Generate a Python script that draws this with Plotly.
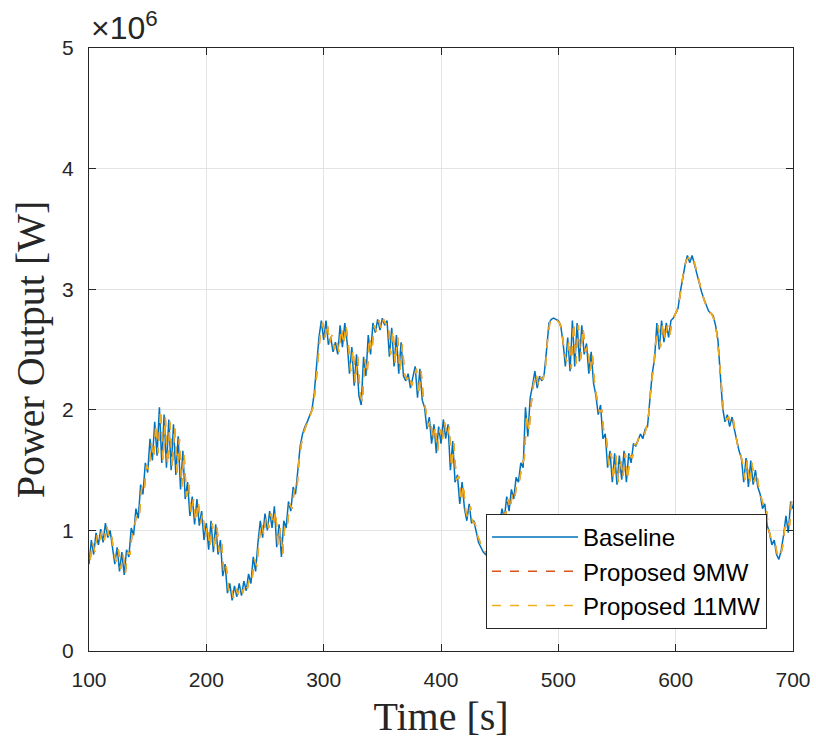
import numpy as np
import plotly.graph_objects as go

# Time axes (s)
baseline_time = np.arange(100, 701, 2)
proposed_time = np.arange(101, 700, 2)

# Power output, in MW (x 1e6 W)
baseline_mw = [
    0.72, 0.92, 0.80, 0.98, 0.88, 1.01, 0.90, 1.06, 0.94, 1.00,
    0.86, 0.72, 0.86, 0.66, 0.82, 0.63, 0.84, 0.78, 1.02, 0.96,
    1.18, 1.10, 1.38, 1.30, 1.56, 1.48, 1.76, 1.58, 1.90, 1.62,
    2.02, 1.56, 1.96, 1.52, 1.92, 1.50, 1.88, 1.46, 1.78, 1.34,
    1.66, 1.26, 1.40, 1.12, 1.28, 1.05, 1.26, 1.04, 1.16, 0.92,
    1.06, 0.84, 1.08, 0.82, 1.05, 0.80, 0.92, 0.62, 0.72, 0.48,
    0.56, 0.42, 0.54, 0.45, 0.56, 0.46, 0.58, 0.50, 0.64, 0.56,
    0.78, 0.66, 0.90, 1.08, 0.94, 1.14, 1.00, 1.16, 1.02, 1.20,
    0.86, 1.05, 0.78, 1.08, 1.02, 1.24, 1.16, 1.36, 1.30, 1.50,
    1.70, 1.80, 1.86, 1.90, 1.96, 2.00, 2.14, 2.40, 2.60, 2.74,
    2.58, 2.74, 2.54, 2.60, 2.48, 2.56, 2.46, 2.70, 2.52, 2.72,
    2.56, 2.30, 2.52, 2.20, 2.46, 2.12, 2.04, 2.44, 2.28, 2.62,
    2.46, 2.72, 2.64, 2.75, 2.66, 2.76, 2.70, 2.74, 2.44, 2.68,
    2.36, 2.62, 2.30, 2.56, 2.28, 2.24, 2.30, 2.18, 2.26, 2.36,
    2.10, 2.34, 2.08, 2.02, 1.84, 1.94, 1.72, 1.88, 1.64, 1.86,
    1.72, 1.92, 1.76, 1.88, 1.50, 1.74, 1.40, 1.46, 1.22, 1.40,
    1.18, 1.08, 1.22, 1.06, 1.08, 0.98, 0.90, 0.86, 0.82, 0.80,
    0.84, 0.80, 0.88, 0.86, 0.98, 1.06, 1.18, 1.10, 1.28, 1.16,
    1.34, 1.26, 1.44, 1.40, 1.56, 1.52, 2.02, 1.78, 2.10, 2.20,
    2.32, 2.18, 2.28, 2.24, 2.30, 2.50, 2.72, 2.75, 2.76, 2.75,
    2.74, 2.70, 2.56, 2.36, 2.60, 2.32, 2.74, 2.36, 2.72, 2.40,
    2.70, 2.46, 2.55, 2.30, 2.48, 2.22, 2.12, 1.96, 2.04, 1.76,
    1.80, 1.52, 1.66, 1.40, 1.64, 1.38, 1.62, 1.42, 1.66, 1.40,
    1.64, 1.56, 1.72, 1.70, 1.76, 1.80, 1.76, 1.84, 1.86, 2.10,
    2.30, 2.42, 2.72, 2.50, 2.74, 2.56, 2.72, 2.60, 2.74, 2.76,
    2.80, 2.84, 2.98, 3.10, 3.20, 3.28, 3.22, 3.28, 3.20, 3.14,
    3.04, 2.98, 2.92, 2.86, 2.82, 2.80, 2.78, 2.70, 2.58, 2.30,
    2.02, 1.90, 1.96, 1.86, 1.94, 1.84, 1.74, 1.66, 1.60, 1.40,
    1.60, 1.36, 1.58, 1.38, 1.50, 1.36, 1.30, 1.18, 1.22, 1.04,
    0.98, 0.88, 0.92, 0.80, 0.76, 0.84, 0.96, 1.12, 0.98, 1.24,
    1.18,
]

# Proposed controllers (9 MW and 11 MW curves coincide in the chart), in MW
proposed_mw = [
    0.76, 0.90, 0.82, 0.96, 0.90, 1.00, 0.92, 1.04, 0.95, 0.98,
    0.82, 0.74, 0.84, 0.68, 0.80, 0.65, 0.82, 0.80, 1.00, 1.04,
    1.16, 1.14, 1.36, 1.32, 1.54, 1.50, 1.72, 1.60, 1.88, 1.64,
    2.00, 1.58, 1.94, 1.54, 1.90, 1.52, 1.86, 1.48, 1.76, 1.36,
    1.64, 1.28, 1.38, 1.14, 1.26, 1.07, 1.24, 1.06, 1.14, 0.94,
    1.04, 0.86, 1.06, 0.84, 1.03, 0.82, 0.90, 0.64, 0.70, 0.50,
    0.54, 0.44, 0.52, 0.47, 0.54, 0.48, 0.56, 0.52, 0.62, 0.60,
    0.76, 0.70, 0.92, 1.06, 0.96, 1.12, 1.02, 1.14, 1.04, 1.16,
    0.88, 1.02, 0.80, 1.06, 1.04, 1.22, 1.18, 1.34, 1.32, 1.58,
    1.72, 1.81, 1.87, 1.91, 1.97, 2.02, 2.18, 2.44, 2.62, 2.72,
    2.60, 2.72, 2.55, 2.62, 2.50, 2.58, 2.48, 2.68, 2.54, 2.70,
    2.54, 2.32, 2.50, 2.22, 2.44, 2.14, 2.06, 2.42, 2.30, 2.60,
    2.48, 2.70, 2.65, 2.74, 2.67, 2.75, 2.71, 2.72, 2.46, 2.66,
    2.38, 2.60, 2.32, 2.54, 2.29, 2.25, 2.29, 2.20, 2.27, 2.34,
    2.12, 2.32, 2.09, 2.00, 1.86, 1.92, 1.74, 1.86, 1.66, 1.84,
    1.74, 1.90, 1.77, 1.86, 1.52, 1.72, 1.42, 1.45, 1.24, 1.38,
    1.16, 1.10, 1.20, 1.07, 1.06, 0.96, 0.91, 0.85, 0.83, 0.81,
    0.83, 0.82, 0.87, 0.88, 1.00, 1.08, 1.16, 1.12, 1.26, 1.18,
    1.32, 1.28, 1.42, 1.42, 1.54, 1.60, 1.96, 1.82, 2.06, 2.22,
    2.30, 2.20, 2.27, 2.25, 2.36, 2.60, 2.74, 2.76, 2.76, 2.74,
    2.72, 2.66, 2.48, 2.40, 2.58, 2.34, 2.72, 2.38, 2.70, 2.42,
    2.68, 2.48, 2.53, 2.32, 2.46, 2.20, 2.10, 1.98, 2.00, 1.78,
    1.76, 1.54, 1.64, 1.42, 1.62, 1.40, 1.60, 1.44, 1.64, 1.42,
    1.62, 1.60, 1.71, 1.72, 1.78, 1.79, 1.78, 1.85, 1.96, 2.20,
    2.34, 2.56, 2.70, 2.52, 2.72, 2.58, 2.70, 2.62, 2.74, 2.78,
    2.82, 2.90, 3.04, 3.16, 3.24, 3.26, 3.24, 3.26, 3.18, 3.10,
    3.02, 2.95, 2.89, 2.84, 2.81, 2.79, 2.74, 2.64, 2.44, 2.16,
    1.96, 1.92, 1.94, 1.88, 1.92, 1.80, 1.70, 1.64, 1.56, 1.42,
    1.58, 1.38, 1.56, 1.40, 1.48, 1.34, 1.28, 1.20, 1.20, 1.02,
    0.94, 0.90, 0.88, 0.78, 0.78, 0.86, 1.02, 1.08, 1.04, 1.26,
]

series_names = ["Baseline", "Proposed 9MW", "Proposed 11MW"]
x_ticks = [100, 200, 300, 400, 500, 600, 700]
y_ticks_mw = [0, 1, 2, 3, 4, 5]

baseline_w = np.array(baseline_mw) * 1e6
proposed_w = np.array(proposed_mw) * 1e6

AX = "#262626"
L, R, T, B = 89, 793, 48, 651

fig = go.Figure()
fig.add_trace(go.Scatter(x=baseline_time, y=baseline_w, mode="lines", name=series_names[0],
                         line=dict(color="#0072BD", width=1.5)))
fig.add_trace(go.Scatter(x=proposed_time, y=proposed_w, mode="lines", name=series_names[1],
                         line=dict(color="#D95319", width=1.5, dash="dash")))
fig.add_trace(go.Scatter(x=proposed_time, y=proposed_w, mode="lines", name=series_names[2],
                         line=dict(color="#EDB120", width=1.5, dash="dash")))

tick_font = dict(family="Liberation Sans, Arial, sans-serif", size=21, color=AX)
title_font = dict(family="Liberation Serif, Times New Roman, serif", size=40, color=AX)

fig.update_layout(
    width=816, height=740,
    margin=dict(l=L, r=816 - R, t=T, b=740 - B, autoexpand=False),
    paper_bgcolor="white", plot_bgcolor="white",
    showlegend=True,
    legend=dict(
        x=(767 - L) / (R - L), xanchor="right",
        y=(B - 629) / (B - T), yanchor="bottom",
        bgcolor="white", bordercolor=AX, borderwidth=1,
        font=dict(family="Liberation Sans, Arial, sans-serif", size=24, color="black"),
        itemwidth=86, tracegroupgap=0,
    ),
    annotations=[dict(
        x=0, y=1, xref="paper", yref="paper", xanchor="left", yanchor="bottom",
        text="\u00d710<sup>6</sup>", showarrow=False, yshift=0, xshift=0,
        font=dict(family="Liberation Sans, Arial, sans-serif", size=32, color=AX),
    )],
)
fig.update_xaxes(
    range=[100, 700], tickvals=x_ticks, ticktext=[str(v) for v in x_ticks],
    showline=True, linecolor=AX, linewidth=1, mirror="ticks",
    ticks="inside", ticklen=7, tickcolor=AX,
    showgrid=True, gridcolor="#e3e3e3", gridwidth=1, zeroline=False,
    tickfont=tick_font, ticklabelstandoff=10, automargin=False,
    title=dict(text="Time [s]", font=title_font, standoff=11),
)
fig.update_yaxes(
    range=[0, 5e6], tickvals=[v * 1e6 for v in y_ticks_mw], ticktext=[str(v) for v in y_ticks_mw],
    showline=True, linecolor=AX, linewidth=1, mirror="ticks",
    ticks="inside", ticklen=7, tickcolor=AX,
    showgrid=True, gridcolor="#e3e3e3", gridwidth=1, zeroline=False,
    tickfont=tick_font, ticklabelstandoff=10, automargin=False,
    title=dict(text="Power Output [W]", font=title_font, standoff=5),
)

fig.write_html("out.html")
